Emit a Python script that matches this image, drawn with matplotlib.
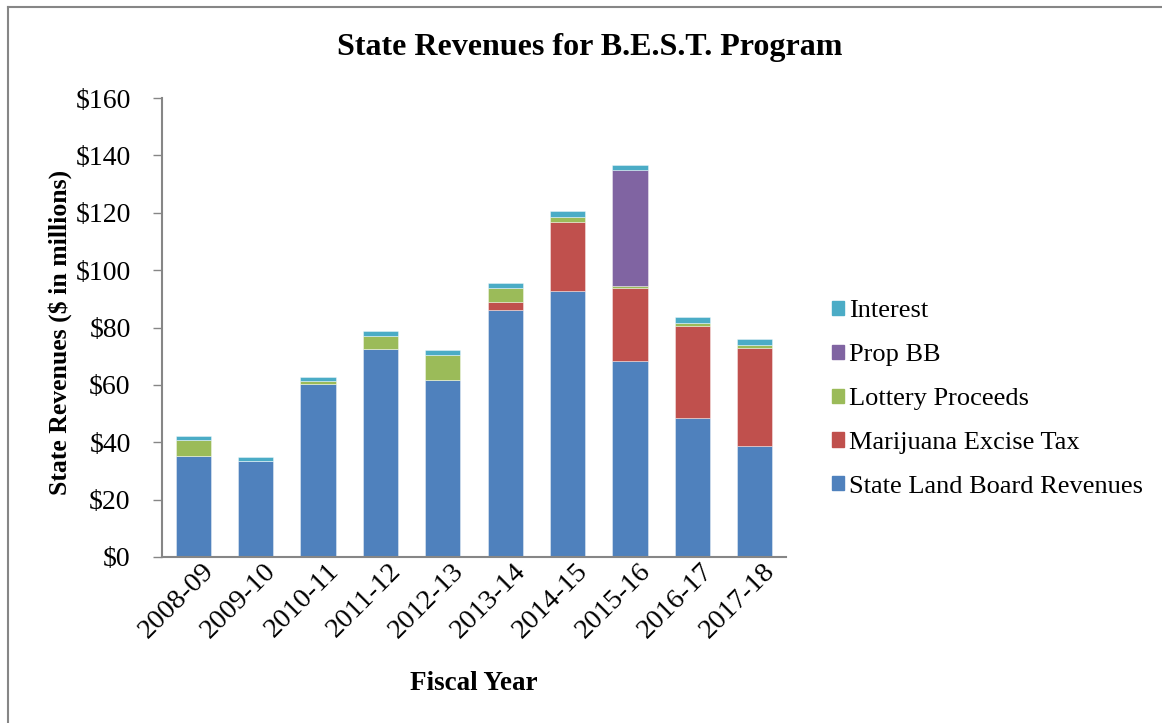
import matplotlib
matplotlib.use("Agg")
import matplotlib.pyplot as plt
import matplotlib.transforms as mtransforms
import numpy as np
from matplotlib.lines import Line2D

years = ["2008-09", "2009-10", "2010-11", "2011-12", "2012-13",
         "2013-14", "2014-15", "2015-16", "2016-17", "2017-18"]
state_land = [35.2, 33.3, 60.3, 72.4, 61.8, 86.1, 92.6, 68.3, 48.4, 38.7]
marijuana = [0, 0, 0, 0, 0, 2.9, 24.1, 25.3, 32.1, 34.3]
lottery = [5.6, 0, 1.0, 4.6, 8.6, 4.9, 1.9, 0.9, 1.1, 1.0]
prop_bb = [0, 0, 0, 0, 0, 0, 0, 40.4, 0, 0]
interest = [1.4, 1.5, 1.4, 1.8, 1.8, 1.6, 2.0, 1.9, 1.9, 2.1]

series = [
    ("State Land Board Revenues", state_land, "#4F81BD"),
    ("Marijuana Excise Tax", marijuana, "#C0504D"),
    ("Lottery Proceeds", lottery, "#9BBB59"),
    ("Prop BB", prop_bb, "#8064A2"),
    ("Interest", interest, "#4BACC6"),
]

plt.rcParams['font.family'] = ['Liberation Serif', 'DejaVu Serif']

fig = plt.figure(figsize=(11.62, 7.23), dpi=100)
W, H = 1162, 723
ax = fig.add_axes([162 / W, 1 - 557 / H, (786 - 162) / W, (557 - 98) / H])

x = np.arange(len(years))
bottom = np.zeros(len(years))
handles = []
for name, vals, col in series:
    v = np.array(vals, dtype=float)
    ax.bar(x, v, width=0.566, bottom=bottom, color=col,
           edgecolor=(1, 1, 1, 0.45), linewidth=0.6, label=name)
    bottom += v
    handles.append((name, col))

ax.set_xlim(-0.5, len(years) - 0.5)
ax.set_ylim(0, 160)
ax.set_yticks(np.arange(0, 161, 20))
ax.set_yticklabels([f"${v}" for v in range(0, 161, 20)], fontsize=20)
ax.set_xticks(x)
ax.set_xticklabels(years, rotation=45, ha="right", rotation_mode="anchor", fontsize=20.5)
ax.tick_params(axis="x", length=0, pad=1)
ax.tick_params(axis="y", length=6.5, width=1, color="#868686", pad=16)
offset = mtransforms.ScaledTranslation(8 / 100, 0, fig.dpi_scale_trans)
for lab in ax.get_xticklabels():
    lab.set_transform(lab.get_transform() + offset)
for s in ["top", "right"]:
    ax.spines[s].set_visible(False)
for s in ["left", "bottom"]:
    ax.spines[s].set_color("#868686")
    ax.spines[s].set_linewidth(1.5)

fig.text(590 / W, 1 - 47 / H, "State Revenues for B.E.S.T. Program",
         ha="center", va="center", fontsize=23, fontweight="bold")
fig.text(474 / W, 1 - 683 / H, "Fiscal Year", ha="center", va="center",
         fontsize=19.5, fontweight="bold")
fig.text(60 / W, 1 - 332 / H, "State Revenues ($ in millions)", ha="center",
         va="center", rotation=90, fontsize=18.5, fontweight="bold")

leg_handles = [plt.Rectangle((0, 0), 1, 1, color=c) for n, c in reversed(handles)]
leg_labels = [n for n, c in reversed(handles)]
fig.legend(leg_handles, leg_labels, loc="center left",
           bbox_to_anchor=(808 / W, 1 - 399 / H), frameon=False, fontsize=19,
           handlelength=0.45, handleheight=0.45, handletextpad=0.2,
           labelspacing=0.83)

fig.add_artist(Line2D([8 / W, 8 / W], [0, 1 - 7 / H], transform=fig.transFigure,
                      color="#868686", linewidth=1.5))
fig.add_artist(Line2D([8 / W, 1], [1 - 7 / H, 1 - 7 / H], transform=fig.transFigure,
                      color="#868686", linewidth=1.5))

fig.savefig("out.png", dpi=100)
